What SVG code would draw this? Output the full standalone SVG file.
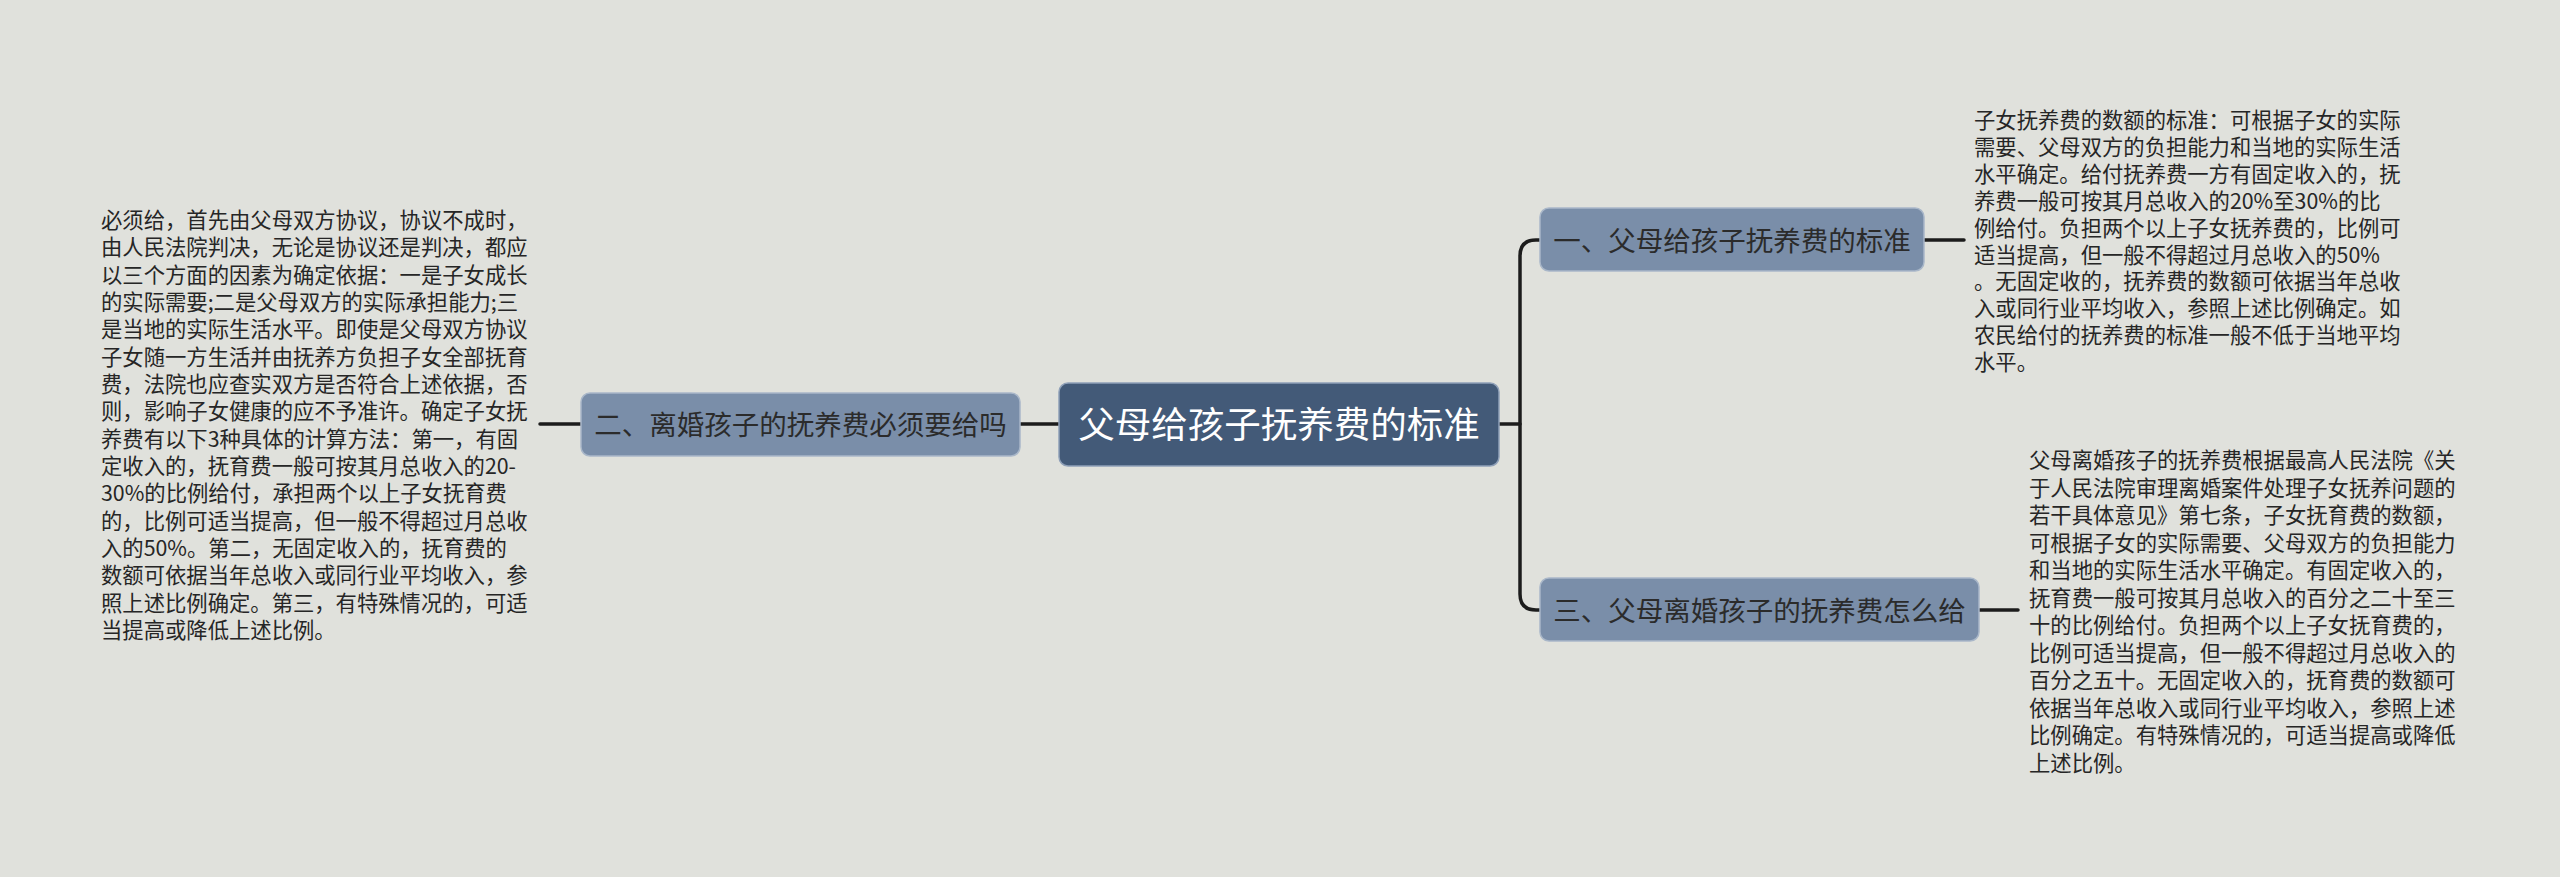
<svg xmlns="http://www.w3.org/2000/svg" width="2560" height="877" viewBox="0 0 2560 877">
<style>
.bg{fill:#e0e1dc}
.conn{fill:none;stroke:#1c1c1c;stroke-width:3.5;stroke-linecap:round}
.root rect{fill:#435a78;stroke:#8fa0b8;stroke-width:1.5}
.sub rect{fill:#7a8ea9;stroke:#a9b7c9;stroke-width:1.5}
.root text{font-family:"Noto Sans CJK SC","Noto Sans",sans-serif;font-size:36.5px;fill:#ffffff}
.sub text{font-family:"Noto Sans CJK SC","Noto Sans",sans-serif;font-size:27.5px;fill:#2b2b2b}
.note text{font-family:"Noto Sans CJK SC","Noto Sans",sans-serif;font-size:21.33px;fill:#262626}
</style>
<rect class="bg" x="0" y="0" width="2560" height="877"/>
<g id="connectors">
<path class="conn" d="M540 424 H581"/>
<path class="conn" d="M1020 424 H1059"/>
<path class="conn" d="M1499 424 H1520"/>
<path class="conn" d="M1540 240 H1536 Q1520 240 1520 256 V594 Q1520 610 1536 610 H1540"/>
<path class="conn" d="M1924 240 H1964"/>
<path class="conn" d="M1979 610 H2018"/>
</g>
<g id="root" class="root">
<rect x="1059" y="383" width="440" height="83" rx="9"/>
<text x="1279" y="438" text-anchor="middle">父母给孩子抚养费的标准</text>
</g>
<g id="node-left" class="sub">
<rect x="581" y="393" width="439" height="63" rx="9"/>
<text x="800.5" y="435" text-anchor="middle">二、离婚孩子的抚养费必须要给吗</text>
</g>
<g id="node-right-1" class="sub">
<rect x="1540" y="208" width="384" height="63" rx="9"/>
<text x="1732" y="250.5" text-anchor="middle">一、父母给孩子抚养费的标准</text>
</g>
<g id="node-right-3" class="sub">
<rect x="1540" y="578" width="439" height="63" rx="9"/>
<text x="1759.5" y="620.5" text-anchor="middle">三、父母离婚孩子的抚养费怎么给</text>
</g>
<g id="note-left" class="note">
<text x="101" y="228">
<tspan x="101" y="228">必须给，首先由父母双方协议，协议不成时，</tspan>
<tspan x="101" y="255.33">由人民法院判决，无论是协议还是判决，都应</tspan>
<tspan x="101" y="282.67">以三个方面的因素为确定依据：一是子女成长</tspan>
<tspan x="101" y="310">的实际需要;二是父母双方的实际承担能力;三</tspan>
<tspan x="101" y="337.33">是当地的实际生活水平。即使是父母双方协议</tspan>
<tspan x="101" y="364.67">子女随一方生活并由抚养方负担子女全部抚育</tspan>
<tspan x="101" y="392">费，法院也应查实双方是否符合上述依据，否</tspan>
<tspan x="101" y="419.33">则，影响子女健康的应不予准许。确定子女抚</tspan>
<tspan x="101" y="446.67">养费有以下3种具体的计算方法：第一，有固</tspan>
<tspan x="101" y="474">定收入的，抚育费一般可按其月总收入的20-</tspan>
<tspan x="101" y="501.33">30%的比例给付，承担两个以上子女抚育费</tspan>
<tspan x="101" y="528.67">的，比例可适当提高，但一般不得超过月总收</tspan>
<tspan x="101" y="556">入的50%。第二，无固定收入的，抚育费的</tspan>
<tspan x="101" y="583.33">数额可依据当年总收入或同行业平均收入，参</tspan>
<tspan x="101" y="610.67">照上述比例确定。第三，有特殊情况的，可适</tspan>
<tspan x="101" y="638">当提高或降低上述比例。</tspan>
</text>
</g>
<g id="note-right-1" class="note">
<text x="1974" y="128">
<tspan x="1974" y="128">子女抚养费的数额的标准：可根据子女的实际</tspan>
<tspan x="1974" y="154.9">需要、父母双方的负担能力和当地的实际生活</tspan>
<tspan x="1974" y="181.8">水平确定。给付抚养费一方有固定收入的，抚</tspan>
<tspan x="1974" y="208.7">养费一般可按其月总收入的20%至30%的比</tspan>
<tspan x="1974" y="235.6">例给付。负担两个以上子女抚养费的，比例可</tspan>
<tspan x="1974" y="262.5">适当提高，但一般不得超过月总收入的50%</tspan>
<tspan x="1974" y="289.4">。无固定收的，抚养费的数额可依据当年总收</tspan>
<tspan x="1974" y="316.3">入或同行业平均收入，参照上述比例确定。如</tspan>
<tspan x="1974" y="343.2">农民给付的抚养费的标准一般不低于当地平均</tspan>
<tspan x="1974" y="370.1">水平。</tspan>
</text>
</g>
<g id="note-right-3" class="note">
<text x="2029" y="468">
<tspan x="2029" y="468">父母离婚孩子的抚养费根据最高人民法院《关</tspan>
<tspan x="2029" y="495.5">于人民法院审理离婚案件处理子女抚养问题的</tspan>
<tspan x="2029" y="523">若干具体意见》第七条，子女抚育费的数额，</tspan>
<tspan x="2029" y="550.5">可根据子女的实际需要、父母双方的负担能力</tspan>
<tspan x="2029" y="578">和当地的实际生活水平确定。有固定收入的，</tspan>
<tspan x="2029" y="605.5">抚育费一般可按其月总收入的百分之二十至三</tspan>
<tspan x="2029" y="633">十的比例给付。负担两个以上子女抚育费的，</tspan>
<tspan x="2029" y="660.5">比例可适当提高，但一般不得超过月总收入的</tspan>
<tspan x="2029" y="688">百分之五十。无固定收入的，抚育费的数额可</tspan>
<tspan x="2029" y="715.5">依据当年总收入或同行业平均收入，参照上述</tspan>
<tspan x="2029" y="743">比例确定。有特殊情况的，可适当提高或降低</tspan>
<tspan x="2029" y="770.5">上述比例。</tspan>
</text>
</g>
</svg>
